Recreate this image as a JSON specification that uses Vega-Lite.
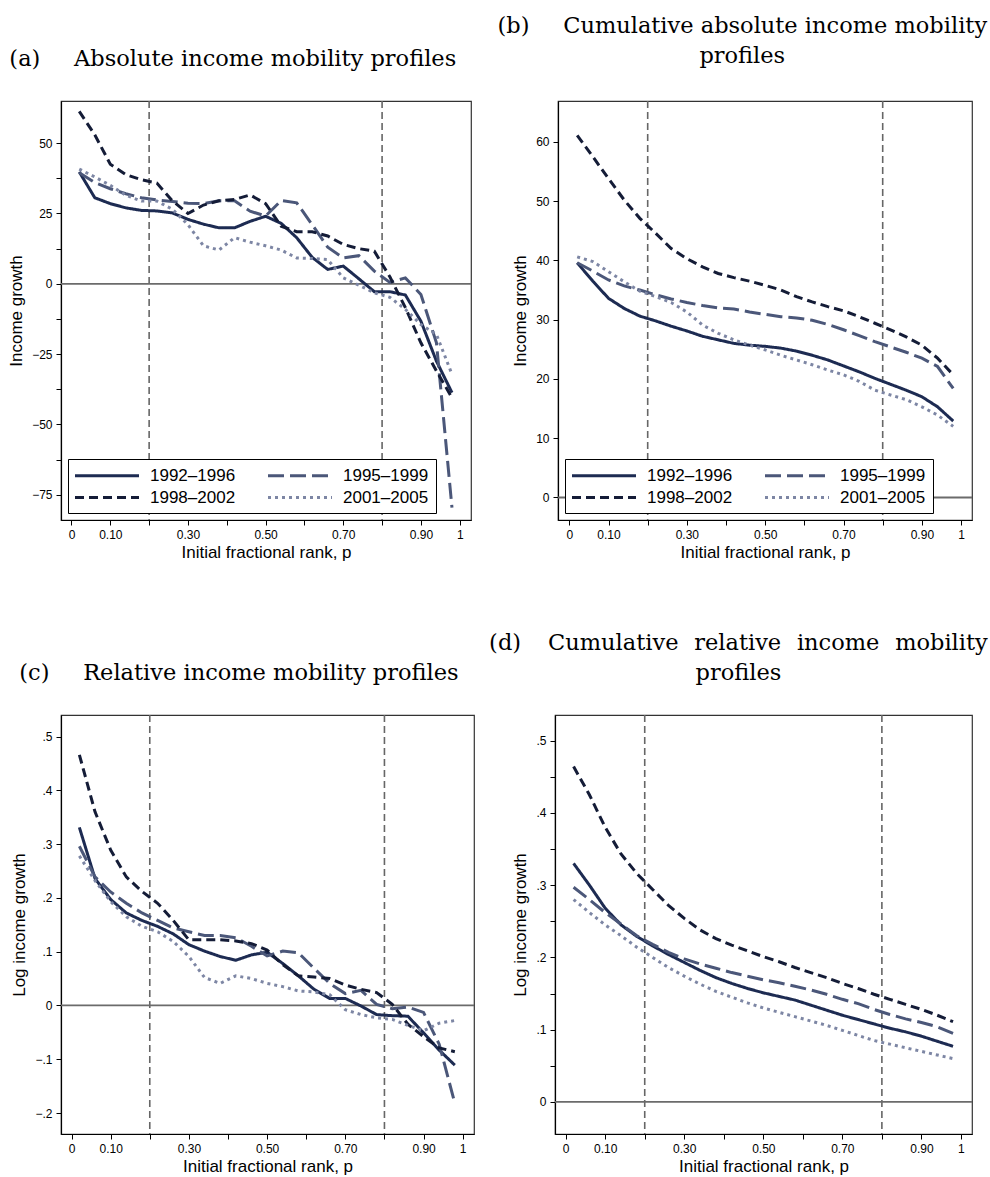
{
 "$schema": "https://vega.github.io/schema/vega-lite/v6.json",
 "padding": {"left": 7, "top": 14, "right": 0, "bottom": 0},
 "background": "white",
 "config": {
  "font": "Liberation Sans",
  "view": {"stroke": "#333", "strokeWidth": 1.2},
  "axis": {"labelFont": "Liberation Sans", "titleFont": "Liberation Sans", "labelFontSize": 12, "titleFontSize": 17, "titleFontWeight": "normal", "tickSize": 5, "labelPadding": 4, "titlePadding": 4, "domainColor": "#000", "tickColor": "#000", "labelColor": "#000", "titleColor": "#000", "grid": false, "domainWidth": 1.2, "tickWidth": 1, "labelFlush": false, "labelOverlap": false},
  "axisY": {"titlePadding": 6},
  "title": {"font": "DejaVu Serif", "fontSize": 22.5, "fontWeight": "normal", "color": "#000", "anchor": "middle", "frame": "bounds", "lineHeight": 30},
  "legend": {"orient": "bottom-left", "offset": 7, "columns": 2, "direction": "horizontal", "symbolType": "M-4,0L4,0", "symbolSize": 256, "symbolOffset": 22.5, "symbolStrokeWidth": 3, "labelFont": "Liberation Sans", "labelFontSize": 17, "labelColor": "#000", "strokeColor": "#000", "fillColor": "#fff", "padding": 7, "columnPadding": 26, "rowPadding": 4, "labelOffset": 33.5}
 },
 "datasets": {
  "vlines": [{"p": 0.2}, {"p": 0.8}],
  "zero": [{"value": 0}],
  "a": [
   {"p":0.02,"period":"1992–1996","value":39.8},{"p":0.06,"period":"1992–1996","value":30.6},{"p":0.10,"period":"1992–1996","value":28.5},{"p":0.14,"period":"1992–1996","value":27.0},{"p":0.18,"period":"1992–1996","value":26.1},{"p":0.22,"period":"1992–1996","value":25.9},{"p":0.26,"period":"1992–1996","value":25.2},{"p":0.30,"period":"1992–1996","value":22.9},{"p":0.34,"period":"1992–1996","value":21.2},{"p":0.38,"period":"1992–1996","value":19.9},{"p":0.42,"period":"1992–1996","value":19.9},{"p":0.46,"period":"1992–1996","value":22.2},{"p":0.50,"period":"1992–1996","value":24.0},{"p":0.54,"period":"1992–1996","value":21.5},{"p":0.58,"period":"1992–1996","value":16.4},{"p":0.62,"period":"1992–1996","value":9.4},{"p":0.66,"period":"1992–1996","value":5.1},{"p":0.70,"period":"1992–1996","value":6.3},{"p":0.74,"period":"1992–1996","value":1.8},{"p":0.78,"period":"1992–1996","value":-2.8},{"p":0.82,"period":"1992–1996","value":-2.8},{"p":0.86,"period":"1992–1996","value":-4.0},{"p":0.90,"period":"1992–1996","value":-13.3},{"p":0.94,"period":"1992–1996","value":-27.5},{"p":0.98,"period":"1992–1996","value":-38.7},
   {"p":0.02,"period":"1995–1999","value":39.5},{"p":0.06,"period":"1995–1999","value":36.0},{"p":0.10,"period":"1995–1999","value":33.8},{"p":0.14,"period":"1995–1999","value":32.0},{"p":0.18,"period":"1995–1999","value":30.6},{"p":0.22,"period":"1995–1999","value":29.8},{"p":0.26,"period":"1995–1999","value":29.3},{"p":0.30,"period":"1995–1999","value":28.6},{"p":0.34,"period":"1995–1999","value":28.5},{"p":0.38,"period":"1995–1999","value":29.5},{"p":0.42,"period":"1995–1999","value":29.5},{"p":0.46,"period":"1995–1999","value":25.8},{"p":0.50,"period":"1995–1999","value":24.1},{"p":0.54,"period":"1995–1999","value":29.6},{"p":0.58,"period":"1995–1999","value":28.8},{"p":0.62,"period":"1995–1999","value":21.0},{"p":0.66,"period":"1995–1999","value":13.0},{"p":0.70,"period":"1995–1999","value":9.2},{"p":0.74,"period":"1995–1999","value":10.0},{"p":0.78,"period":"1995–1999","value":4.5},{"p":0.82,"period":"1995–1999","value":0.5},{"p":0.86,"period":"1995–1999","value":2.1},{"p":0.90,"period":"1995–1999","value":-3.8},{"p":0.94,"period":"1995–1999","value":-21.0},{"p":0.98,"period":"1995–1999","value":-79.6},
   {"p":0.02,"period":"1998–2002","value":61.3},{"p":0.06,"period":"1998–2002","value":53.0},{"p":0.10,"period":"1998–2002","value":42.5},{"p":0.14,"period":"1998–2002","value":38.8},{"p":0.18,"period":"1998–2002","value":37.0},{"p":0.22,"period":"1998–2002","value":35.8},{"p":0.26,"period":"1998–2002","value":29.5},{"p":0.30,"period":"1998–2002","value":25.0},{"p":0.34,"period":"1998–2002","value":28.0},{"p":0.38,"period":"1998–2002","value":29.5},{"p":0.42,"period":"1998–2002","value":30.0},{"p":0.46,"period":"1998–2002","value":31.6},{"p":0.50,"period":"1998–2002","value":28.5},{"p":0.54,"period":"1998–2002","value":20.5},{"p":0.58,"period":"1998–2002","value":18.5},{"p":0.62,"period":"1998–2002","value":18.5},{"p":0.66,"period":"1998–2002","value":17.0},{"p":0.70,"period":"1998–2002","value":14.0},{"p":0.74,"period":"1998–2002","value":12.5},{"p":0.78,"period":"1998–2002","value":11.6},{"p":0.82,"period":"1998–2002","value":2.5},{"p":0.86,"period":"1998–2002","value":-8.5},{"p":0.90,"period":"1998–2002","value":-21.0},{"p":0.94,"period":"1998–2002","value":-31.0},{"p":0.98,"period":"1998–2002","value":-40.5},
   {"p":0.02,"period":"2001–2005","value":40.8},{"p":0.06,"period":"2001–2005","value":38.0},{"p":0.10,"period":"2001–2005","value":35.0},{"p":0.14,"period":"2001–2005","value":31.5},{"p":0.18,"period":"2001–2005","value":29.4},{"p":0.22,"period":"2001–2005","value":29.4},{"p":0.26,"period":"2001–2005","value":26.5},{"p":0.30,"period":"2001–2005","value":21.0},{"p":0.34,"period":"2001–2005","value":13.5},{"p":0.38,"period":"2001–2005","value":12.0},{"p":0.42,"period":"2001–2005","value":16.4},{"p":0.46,"period":"2001–2005","value":14.8},{"p":0.50,"period":"2001–2005","value":13.5},{"p":0.54,"period":"2001–2005","value":12.0},{"p":0.58,"period":"2001–2005","value":9.2},{"p":0.62,"period":"2001–2005","value":9.0},{"p":0.66,"period":"2001–2005","value":8.6},{"p":0.70,"period":"2001–2005","value":2.1},{"p":0.74,"period":"2001–2005","value":-0.5},{"p":0.78,"period":"2001–2005","value":-3.2},{"p":0.82,"period":"2001–2005","value":-4.8},{"p":0.86,"period":"2001–2005","value":-9.1},{"p":0.90,"period":"2001–2005","value":-14.5},{"p":0.94,"period":"2001–2005","value":-18.0},{"p":0.98,"period":"2001–2005","value":-32.2}
  ],
  "b": [
   {"p":0.02,"period":"1992–1996","value":39.6},{"p":0.06,"period":"1992–1996","value":36.5},{"p":0.10,"period":"1992–1996","value":33.6},{"p":0.14,"period":"1992–1996","value":31.9},{"p":0.18,"period":"1992–1996","value":30.6},{"p":0.22,"period":"1992–1996","value":29.8},{"p":0.26,"period":"1992–1996","value":28.9},{"p":0.30,"period":"1992–1996","value":28.1},{"p":0.34,"period":"1992–1996","value":27.2},{"p":0.38,"period":"1992–1996","value":26.6},{"p":0.42,"period":"1992–1996","value":26.0},{"p":0.46,"period":"1992–1996","value":25.7},{"p":0.50,"period":"1992–1996","value":25.5},{"p":0.54,"period":"1992–1996","value":25.2},{"p":0.58,"period":"1992–1996","value":24.7},{"p":0.62,"period":"1992–1996","value":24.0},{"p":0.66,"period":"1992–1996","value":23.2},{"p":0.70,"period":"1992–1996","value":22.2},{"p":0.74,"period":"1992–1996","value":21.2},{"p":0.78,"period":"1992–1996","value":20.1},{"p":0.82,"period":"1992–1996","value":19.1},{"p":0.86,"period":"1992–1996","value":18.1},{"p":0.90,"period":"1992–1996","value":17.0},{"p":0.94,"period":"1992–1996","value":15.3},{"p":0.98,"period":"1992–1996","value":12.9},
   {"p":0.02,"period":"1995–1999","value":39.6},{"p":0.06,"period":"1995–1999","value":38.2},{"p":0.10,"period":"1995–1999","value":36.7},{"p":0.14,"period":"1995–1999","value":35.7},{"p":0.18,"period":"1995–1999","value":35.0},{"p":0.22,"period":"1995–1999","value":34.2},{"p":0.26,"period":"1995–1999","value":33.5},{"p":0.30,"period":"1995–1999","value":32.9},{"p":0.34,"period":"1995–1999","value":32.4},{"p":0.38,"period":"1995–1999","value":32.0},{"p":0.42,"period":"1995–1999","value":31.8},{"p":0.46,"period":"1995–1999","value":31.3},{"p":0.50,"period":"1995–1999","value":30.9},{"p":0.54,"period":"1995–1999","value":30.5},{"p":0.58,"period":"1995–1999","value":30.3},{"p":0.62,"period":"1995–1999","value":29.9},{"p":0.66,"period":"1995–1999","value":29.2},{"p":0.70,"period":"1995–1999","value":28.3},{"p":0.74,"period":"1995–1999","value":27.3},{"p":0.78,"period":"1995–1999","value":26.3},{"p":0.82,"period":"1995–1999","value":25.4},{"p":0.86,"period":"1995–1999","value":24.5},{"p":0.90,"period":"1995–1999","value":23.5},{"p":0.94,"period":"1995–1999","value":22.1},{"p":0.98,"period":"1995–1999","value":18.4},
   {"p":0.02,"period":"1998–2002","value":61.1},{"p":0.06,"period":"1998–2002","value":57.5},{"p":0.10,"period":"1998–2002","value":53.8},{"p":0.14,"period":"1998–2002","value":50.2},{"p":0.18,"period":"1998–2002","value":47.1},{"p":0.22,"period":"1998–2002","value":44.6},{"p":0.26,"period":"1998–2002","value":42.0},{"p":0.30,"period":"1998–2002","value":40.3},{"p":0.34,"period":"1998–2002","value":38.9},{"p":0.38,"period":"1998–2002","value":37.8},{"p":0.42,"period":"1998–2002","value":37.1},{"p":0.46,"period":"1998–2002","value":36.5},{"p":0.50,"period":"1998–2002","value":35.8},{"p":0.54,"period":"1998–2002","value":35.0},{"p":0.58,"period":"1998–2002","value":33.9},{"p":0.62,"period":"1998–2002","value":33.0},{"p":0.66,"period":"1998–2002","value":32.2},{"p":0.70,"period":"1998–2002","value":31.5},{"p":0.74,"period":"1998–2002","value":30.5},{"p":0.78,"period":"1998–2002","value":29.4},{"p":0.82,"period":"1998–2002","value":28.3},{"p":0.86,"period":"1998–2002","value":27.1},{"p":0.90,"period":"1998–2002","value":25.7},{"p":0.94,"period":"1998–2002","value":23.5},{"p":0.98,"period":"1998–2002","value":20.7},
   {"p":0.02,"period":"2001–2005","value":40.6},{"p":0.06,"period":"2001–2005","value":39.8},{"p":0.10,"period":"2001–2005","value":38.1},{"p":0.14,"period":"2001–2005","value":36.4},{"p":0.18,"period":"2001–2005","value":34.8},{"p":0.22,"period":"2001–2005","value":33.9},{"p":0.26,"period":"2001–2005","value":32.9},{"p":0.30,"period":"2001–2005","value":31.3},{"p":0.34,"period":"2001–2005","value":29.1},{"p":0.38,"period":"2001–2005","value":27.7},{"p":0.42,"period":"2001–2005","value":26.6},{"p":0.46,"period":"2001–2005","value":25.7},{"p":0.50,"period":"2001–2005","value":24.9},{"p":0.54,"period":"2001–2005","value":24.0},{"p":0.58,"period":"2001–2005","value":23.2},{"p":0.62,"period":"2001–2005","value":22.4},{"p":0.66,"period":"2001–2005","value":21.5},{"p":0.70,"period":"2001–2005","value":20.7},{"p":0.74,"period":"2001–2005","value":19.6},{"p":0.78,"period":"2001–2005","value":18.1},{"p":0.82,"period":"2001–2005","value":17.3},{"p":0.86,"period":"2001–2005","value":16.5},{"p":0.90,"period":"2001–2005","value":15.3},{"p":0.94,"period":"2001–2005","value":13.9},{"p":0.98,"period":"2001–2005","value":12.0}
  ],
  "c": [
   {"p":0.02,"period":"1992–1996","value":0.331},{"p":0.06,"period":"1992–1996","value":0.236},{"p":0.10,"period":"1992–1996","value":0.197},{"p":0.14,"period":"1992–1996","value":0.172},{"p":0.18,"period":"1992–1996","value":0.158},{"p":0.22,"period":"1992–1996","value":0.147},{"p":0.26,"period":"1992–1996","value":0.133},{"p":0.30,"period":"1992–1996","value":0.113},{"p":0.34,"period":"1992–1996","value":0.101},{"p":0.38,"period":"1992–1996","value":0.091},{"p":0.42,"period":"1992–1996","value":0.084},{"p":0.46,"period":"1992–1996","value":0.094},{"p":0.50,"period":"1992–1996","value":0.099},{"p":0.54,"period":"1992–1996","value":0.078},{"p":0.58,"period":"1992–1996","value":0.055},{"p":0.62,"period":"1992–1996","value":0.030},{"p":0.66,"period":"1992–1996","value":0.013},{"p":0.70,"period":"1992–1996","value":0.013},{"p":0.74,"period":"1992–1996","value":-0.001},{"p":0.78,"period":"1992–1996","value":-0.017},{"p":0.82,"period":"1992–1996","value":-0.019},{"p":0.86,"period":"1992–1996","value":-0.020},{"p":0.90,"period":"1992–1996","value":-0.051},{"p":0.94,"period":"1992–1996","value":-0.083},{"p":0.98,"period":"1992–1996","value":-0.111},
   {"p":0.02,"period":"1995–1999","value":0.296},{"p":0.06,"period":"1995–1999","value":0.239},{"p":0.10,"period":"1995–1999","value":0.211},{"p":0.14,"period":"1995–1999","value":0.190},{"p":0.18,"period":"1995–1999","value":0.172},{"p":0.22,"period":"1995–1999","value":0.158},{"p":0.26,"period":"1995–1999","value":0.144},{"p":0.30,"period":"1995–1999","value":0.137},{"p":0.34,"period":"1995–1999","value":0.130},{"p":0.38,"period":"1995–1999","value":0.130},{"p":0.42,"period":"1995–1999","value":0.126},{"p":0.46,"period":"1995–1999","value":0.110},{"p":0.50,"period":"1995–1999","value":0.092},{"p":0.54,"period":"1995–1999","value":0.101},{"p":0.58,"period":"1995–1999","value":0.098},{"p":0.62,"period":"1995–1999","value":0.069},{"p":0.66,"period":"1995–1999","value":0.041},{"p":0.70,"period":"1995–1999","value":0.022},{"p":0.74,"period":"1995–1999","value":0.028},{"p":0.78,"period":"1995–1999","value":0.002},{"p":0.82,"period":"1995–1999","value":-0.006},{"p":0.86,"period":"1995–1999","value":-0.003},{"p":0.90,"period":"1995–1999","value":-0.013},{"p":0.94,"period":"1995–1999","value":-0.072},{"p":0.98,"period":"1995–1999","value":-0.182},
   {"p":0.02,"period":"1998–2002","value":0.466},{"p":0.06,"period":"1998–2002","value":0.360},{"p":0.10,"period":"1998–2002","value":0.289},{"p":0.14,"period":"1998–2002","value":0.239},{"p":0.18,"period":"1998–2002","value":0.212},{"p":0.22,"period":"1998–2002","value":0.190},{"p":0.26,"period":"1998–2002","value":0.158},{"p":0.30,"period":"1998–2002","value":0.122},{"p":0.34,"period":"1998–2002","value":0.122},{"p":0.38,"period":"1998–2002","value":0.122},{"p":0.42,"period":"1998–2002","value":0.120},{"p":0.46,"period":"1998–2002","value":0.115},{"p":0.50,"period":"1998–2002","value":0.103},{"p":0.54,"period":"1998–2002","value":0.076},{"p":0.58,"period":"1998–2002","value":0.055},{"p":0.62,"period":"1998–2002","value":0.053},{"p":0.66,"period":"1998–2002","value":0.050},{"p":0.70,"period":"1998–2002","value":0.038},{"p":0.74,"period":"1998–2002","value":0.030},{"p":0.78,"period":"1998–2002","value":0.024},{"p":0.82,"period":"1998–2002","value":0.002},{"p":0.86,"period":"1998–2002","value":-0.035},{"p":0.90,"period":"1998–2002","value":-0.058},{"p":0.94,"period":"1998–2002","value":-0.079},{"p":0.98,"period":"1998–2002","value":-0.086},
   {"p":0.02,"period":"2001–2005","value":0.278},{"p":0.06,"period":"2001–2005","value":0.232},{"p":0.10,"period":"2001–2005","value":0.193},{"p":0.14,"period":"2001–2005","value":0.165},{"p":0.18,"period":"2001–2005","value":0.147},{"p":0.22,"period":"2001–2005","value":0.137},{"p":0.26,"period":"2001–2005","value":0.119},{"p":0.30,"period":"2001–2005","value":0.091},{"p":0.34,"period":"2001–2005","value":0.052},{"p":0.38,"period":"2001–2005","value":0.041},{"p":0.42,"period":"2001–2005","value":0.055},{"p":0.46,"period":"2001–2005","value":0.050},{"p":0.50,"period":"2001–2005","value":0.041},{"p":0.54,"period":"2001–2005","value":0.035},{"p":0.58,"period":"2001–2005","value":0.027},{"p":0.62,"period":"2001–2005","value":0.025},{"p":0.66,"period":"2001–2005","value":0.020},{"p":0.70,"period":"2001–2005","value":-0.008},{"p":0.74,"period":"2001–2005","value":-0.017},{"p":0.78,"period":"2001–2005","value":-0.023},{"p":0.82,"period":"2001–2005","value":-0.026},{"p":0.86,"period":"2001–2005","value":-0.037},{"p":0.90,"period":"2001–2005","value":-0.047},{"p":0.94,"period":"2001–2005","value":-0.033},{"p":0.98,"period":"2001–2005","value":-0.028}
  ],
  "d": [
   {"p":0.02,"period":"1992–1996","value":0.330},{"p":0.06,"period":"1992–1996","value":0.300},{"p":0.10,"period":"1992–1996","value":0.268},{"p":0.14,"period":"1992–1996","value":0.245},{"p":0.18,"period":"1992–1996","value":0.229},{"p":0.22,"period":"1992–1996","value":0.216},{"p":0.26,"period":"1992–1996","value":0.204},{"p":0.30,"period":"1992–1996","value":0.193},{"p":0.34,"period":"1992–1996","value":0.182},{"p":0.38,"period":"1992–1996","value":0.172},{"p":0.42,"period":"1992–1996","value":0.164},{"p":0.46,"period":"1992–1996","value":0.157},{"p":0.50,"period":"1992–1996","value":0.151},{"p":0.54,"period":"1992–1996","value":0.146},{"p":0.58,"period":"1992–1996","value":0.141},{"p":0.62,"period":"1992–1996","value":0.134},{"p":0.66,"period":"1992–1996","value":0.127},{"p":0.70,"period":"1992–1996","value":0.120},{"p":0.74,"period":"1992–1996","value":0.114},{"p":0.78,"period":"1992–1996","value":0.108},{"p":0.82,"period":"1992–1996","value":0.102},{"p":0.86,"period":"1992–1996","value":0.097},{"p":0.90,"period":"1992–1996","value":0.091},{"p":0.94,"period":"1992–1996","value":0.084},{"p":0.98,"period":"1992–1996","value":0.077},
   {"p":0.02,"period":"1995–1999","value":0.297},{"p":0.06,"period":"1995–1999","value":0.280},{"p":0.10,"period":"1995–1999","value":0.262},{"p":0.14,"period":"1995–1999","value":0.246},{"p":0.18,"period":"1995–1999","value":0.230},{"p":0.22,"period":"1995–1999","value":0.218},{"p":0.26,"period":"1995–1999","value":0.207},{"p":0.30,"period":"1995–1999","value":0.198},{"p":0.34,"period":"1995–1999","value":0.191},{"p":0.38,"period":"1995–1999","value":0.185},{"p":0.42,"period":"1995–1999","value":0.179},{"p":0.46,"period":"1995–1999","value":0.174},{"p":0.50,"period":"1995–1999","value":0.169},{"p":0.54,"period":"1995–1999","value":0.165},{"p":0.58,"period":"1995–1999","value":0.160},{"p":0.62,"period":"1995–1999","value":0.155},{"p":0.66,"period":"1995–1999","value":0.149},{"p":0.70,"period":"1995–1999","value":0.142},{"p":0.74,"period":"1995–1999","value":0.136},{"p":0.78,"period":"1995–1999","value":0.128},{"p":0.82,"period":"1995–1999","value":0.121},{"p":0.86,"period":"1995–1999","value":0.115},{"p":0.90,"period":"1995–1999","value":0.110},{"p":0.94,"period":"1995–1999","value":0.104},{"p":0.98,"period":"1995–1999","value":0.095},
   {"p":0.02,"period":"1998–2002","value":0.464},{"p":0.06,"period":"1998–2002","value":0.425},{"p":0.10,"period":"1998–2002","value":0.380},{"p":0.14,"period":"1998–2002","value":0.343},{"p":0.18,"period":"1998–2002","value":0.316},{"p":0.22,"period":"1998–2002","value":0.294},{"p":0.26,"period":"1998–2002","value":0.272},{"p":0.30,"period":"1998–2002","value":0.254},{"p":0.34,"period":"1998–2002","value":0.238},{"p":0.38,"period":"1998–2002","value":0.226},{"p":0.42,"period":"1998–2002","value":0.217},{"p":0.46,"period":"1998–2002","value":0.209},{"p":0.50,"period":"1998–2002","value":0.201},{"p":0.54,"period":"1998–2002","value":0.194},{"p":0.58,"period":"1998–2002","value":0.186},{"p":0.62,"period":"1998–2002","value":0.179},{"p":0.66,"period":"1998–2002","value":0.172},{"p":0.70,"period":"1998–2002","value":0.164},{"p":0.74,"period":"1998–2002","value":0.157},{"p":0.78,"period":"1998–2002","value":0.149},{"p":0.82,"period":"1998–2002","value":0.142},{"p":0.86,"period":"1998–2002","value":0.135},{"p":0.90,"period":"1998–2002","value":0.128},{"p":0.94,"period":"1998–2002","value":0.120},{"p":0.98,"period":"1998–2002","value":0.111},
   {"p":0.02,"period":"2001–2005","value":0.280},{"p":0.06,"period":"2001–2005","value":0.262},{"p":0.10,"period":"2001–2005","value":0.245},{"p":0.14,"period":"2001–2005","value":0.230},{"p":0.18,"period":"2001–2005","value":0.214},{"p":0.22,"period":"2001–2005","value":0.200},{"p":0.26,"period":"2001–2005","value":0.186},{"p":0.30,"period":"2001–2005","value":0.174},{"p":0.34,"period":"2001–2005","value":0.163},{"p":0.38,"period":"2001–2005","value":0.153},{"p":0.42,"period":"2001–2005","value":0.145},{"p":0.46,"period":"2001–2005","value":0.137},{"p":0.50,"period":"2001–2005","value":0.130},{"p":0.54,"period":"2001–2005","value":0.124},{"p":0.58,"period":"2001–2005","value":0.118},{"p":0.62,"period":"2001–2005","value":0.112},{"p":0.66,"period":"2001–2005","value":0.106},{"p":0.70,"period":"2001–2005","value":0.099},{"p":0.74,"period":"2001–2005","value":0.092},{"p":0.78,"period":"2001–2005","value":0.085},{"p":0.82,"period":"2001–2005","value":0.080},{"p":0.86,"period":"2001–2005","value":0.075},{"p":0.90,"period":"2001–2005","value":0.070},{"p":0.94,"period":"2001–2005","value":0.065},{"p":0.98,"period":"2001–2005","value":0.060}
  ]
 },
 "resolve": {"legend": {"color": "independent", "strokeDash": "independent"}, "scale": {"x": "independent", "y": "independent"}},
 "spacing": 70,
 "vconcat": [
  {
   "spacing": 23,
   "resolve": {"legend": {"color": "independent", "strokeDash": "independent"}, "scale": {"x": "independent", "y": "independent"}},
   "hconcat": [
    {
     "width": 410, "height": 419,
     "title": {"text": "(a)\u2003\u2002Absolute income mobility profiles", "offset": 30, "dx": -7},
     "layer": [
      {"data": {"name": "vlines"}, "mark": {"type": "rule", "color": "#666", "strokeWidth": 1.6, "strokeDash": [7, 4]}, "encoding": {"x": {"field": "p", "type": "quantitative", "title": "Initial fractional rank, p"}}},
      {"data": {"name": "zero"}, "mark": {"type": "rule", "color": "#6b6b6b", "strokeWidth": 1.8}, "encoding": {"y": {"field": "value", "type": "quantitative", "title": "Income growth"}}},
      {"data": {"name": "a"}, "mark": {"type": "line", "strokeWidth": 3},
       "encoding": {
        "x": {"field": "p", "type": "quantitative", "title": "Initial fractional rank, p", "scale": {"domain": [-0.027, 1.029], "nice": false, "zero": false},
              "axis": {"values": [0,0.05,0.1,0.15,0.2,0.25,0.3,0.35,0.4,0.45,0.5,0.55,0.6,0.65,0.7,0.75,0.8,0.85,0.9,0.95,1], "labelExpr": "datum.value == 0 ? '0' : datum.value == 1 ? '1' : (abs(datum.value * 10 - round(datum.value * 10)) < 0.001 && round(datum.value * 10) % 2 == 1) ? format(datum.value, '.2f') : ''"}},
        "y": {"field": "value", "type": "quantitative", "title": "Income growth", "scale": {"domain": [-84, 65], "nice": false, "zero": false},
              "axis": {"values": [-75,-62.5,-50,-37.5,-25,-12.5,0,12.5,25,37.5,50], "labelExpr": "datum.value % 25 == 0 ? format(datum.value, 'd') : ''"}},
        "color": {"field": "period", "type": "nominal", "scale": {"domain": ["1992–1996","1995–1999","1998–2002","2001–2005"], "range": ["#1d2b52","#4b5779","#141c37","#7d86a4"]}, "legend": {"title": null}},
        "strokeDash": {"field": "period", "type": "nominal", "scale": {"domain": ["1992–1996","1995–1999","1998–2002","2001–2005"], "range": [[1,0],[16,6],[9,5],[3,4]]}, "legend": {"title": null}}
       }}
     ]
    },
    {
     "width": 414, "height": 419,
     "title": {"text": ["(b)\u2003\u2002Cumulative absolute income mobility", "profiles"], "offset": 33, "dx": 0},
     "layer": [
      {"data": {"name": "vlines"}, "mark": {"type": "rule", "color": "#666", "strokeWidth": 1.6, "strokeDash": [7, 4]}, "encoding": {"x": {"field": "p", "type": "quantitative", "title": "Initial fractional rank, p"}}},
      {"data": {"name": "zero"}, "mark": {"type": "rule", "color": "#6b6b6b", "strokeWidth": 1.8}, "encoding": {"y": {"field": "value", "type": "quantitative", "title": "Income growth"}}},
      {"data": {"name": "b"}, "mark": {"type": "line", "strokeWidth": 3},
       "encoding": {
        "x": {"field": "p", "type": "quantitative", "title": "Initial fractional rank, p", "scale": {"domain": [-0.029, 1.028], "nice": false, "zero": false},
              "axis": {"values": [0,0.05,0.1,0.15,0.2,0.25,0.3,0.35,0.4,0.45,0.5,0.55,0.6,0.65,0.7,0.75,0.8,0.85,0.9,0.95,1], "labelExpr": "datum.value == 0 ? '0' : datum.value == 1 ? '1' : (abs(datum.value * 10 - round(datum.value * 10)) < 0.001 && round(datum.value * 10) % 2 == 1) ? format(datum.value, '.2f') : ''"}},
        "y": {"field": "value", "type": "quantitative", "title": "Income growth", "scale": {"domain": [-3.8, 66.9], "nice": false, "zero": false},
              "axis": {"values": [0,5,10,15,20,25,30,35,40,45,50,55,60], "labelExpr": "datum.value % 10 == 0 ? format(datum.value, 'd') : ''"}},
        "color": {"field": "period", "type": "nominal", "scale": {"domain": ["1992–1996","1995–1999","1998–2002","2001–2005"], "range": ["#1d2b52","#4b5779","#141c37","#7d86a4"]}, "legend": {"title": null}},
        "strokeDash": {"field": "period", "type": "nominal", "scale": {"domain": ["1992–1996","1995–1999","1998–2002","2001–2005"], "range": [[1,0],[16,6],[9,5],[3,4]]}, "legend": {"title": null}}
       }}
     ]
    }
   ]
  },
  {
   "spacing": 12,
   "resolve": {"legend": {"color": "independent", "strokeDash": "independent"}, "scale": {"x": "independent", "y": "independent"}},
   "hconcat": [
    {
     "width": 413, "height": 419,
     "title": {"text": "(c)\u2003\u2002Relative income mobility profiles", "offset": 30, "dx": -4},
     "layer": [
      {"data": {"name": "vlines"}, "mark": {"type": "rule", "color": "#666", "strokeWidth": 1.6, "strokeDash": [7, 4]}, "encoding": {"x": {"field": "p", "type": "quantitative", "title": "Initial fractional rank, p"}}},
      {"data": {"name": "zero"}, "mark": {"type": "rule", "color": "#6b6b6b", "strokeWidth": 1.8}, "encoding": {"y": {"field": "value", "type": "quantitative", "title": "Log income growth"}}},
      {"data": {"name": "c"}, "mark": {"type": "line", "strokeWidth": 3},
       "encoding": {
        "x": {"field": "p", "type": "quantitative", "title": "Initial fractional rank, p", "scale": {"domain": [-0.027, 1.029], "nice": false, "zero": false},
              "axis": {"values": [0,0.05,0.1,0.15,0.2,0.25,0.3,0.35,0.4,0.45,0.5,0.55,0.6,0.65,0.7,0.75,0.8,0.85,0.9,0.95,1], "labelExpr": "datum.value == 0 ? '0' : datum.value == 1 ? '1' : (abs(datum.value * 10 - round(datum.value * 10)) < 0.001 && round(datum.value * 10) % 2 == 1) ? format(datum.value, '.2f') : ''"}},
        "y": {"field": "value", "type": "quantitative", "title": "Log income growth", "scale": {"domain": [-0.239, 0.540], "nice": false, "zero": false},
              "axis": {"values": [-0.2,-0.15,-0.1,-0.05,0,0.05,0.1,0.15,0.2,0.25,0.3,0.35,0.4,0.45,0.5], "labelExpr": "abs(datum.value * 10 - round(datum.value * 10)) > 0.001 ? '' : datum.value == 0 ? '0' : replace(format(datum.value, '.1f'), '0.', '.')"}},
        "color": {"field": "period", "type": "nominal", "scale": {"domain": ["1992–1996","1995–1999","1998–2002","2001–2005"], "range": ["#1d2b52","#4b5779","#141c37","#7d86a4"]}, "legend": null},
        "strokeDash": {"field": "period", "type": "nominal", "scale": {"domain": ["1992–1996","1995–1999","1998–2002","2001–2005"], "range": [[1,0],[16,6],[9,5],[3,4]]}, "legend": null}
       }}
     ]
    },
    {
     "width": 417, "height": 419,
     "title": {"text": ["(d)\u2003\u2009Cumulative\u2002\u2009relative\u2002\u2009income\u2002\u2009mobility", "profiles"], "offset": 30, "dx": -4},
     "layer": [
      {"data": {"name": "vlines"}, "mark": {"type": "rule", "color": "#666", "strokeWidth": 1.6, "strokeDash": [7, 4]}, "encoding": {"x": {"field": "p", "type": "quantitative", "title": "Initial fractional rank, p"}}},
      {"data": {"name": "zero"}, "mark": {"type": "rule", "color": "#6b6b6b", "strokeWidth": 1.8}, "encoding": {"y": {"field": "value", "type": "quantitative", "title": "Log income growth"}}},
      {"data": {"name": "d"}, "mark": {"type": "line", "strokeWidth": 3},
       "encoding": {
        "x": {"field": "p", "type": "quantitative", "title": "Initial fractional rank, p", "scale": {"domain": [-0.027, 1.028], "nice": false, "zero": false},
              "axis": {"values": [0,0.05,0.1,0.15,0.2,0.25,0.3,0.35,0.4,0.45,0.5,0.55,0.6,0.65,0.7,0.75,0.8,0.85,0.9,0.95,1], "labelExpr": "datum.value == 0 ? '0' : datum.value == 1 ? '1' : (abs(datum.value * 10 - round(datum.value * 10)) < 0.001 && round(datum.value * 10) % 2 == 1) ? format(datum.value, '.2f') : ''"}},
        "y": {"field": "value", "type": "quantitative", "title": "Log income growth", "scale": {"domain": [-0.0443, 0.5353], "nice": false, "zero": false},
              "axis": {"values": [0,0.05,0.1,0.15,0.2,0.25,0.3,0.35,0.4,0.45,0.5], "labelExpr": "abs(datum.value * 10 - round(datum.value * 10)) > 0.001 ? '' : datum.value == 0 ? '0' : replace(format(datum.value, '.1f'), '0.', '.')"}},
        "color": {"field": "period", "type": "nominal", "scale": {"domain": ["1992–1996","1995–1999","1998–2002","2001–2005"], "range": ["#1d2b52","#4b5779","#141c37","#7d86a4"]}, "legend": null},
        "strokeDash": {"field": "period", "type": "nominal", "scale": {"domain": ["1992–1996","1995–1999","1998–2002","2001–2005"], "range": [[1,0],[16,6],[9,5],[3,4]]}, "legend": null}
       }}
     ]
    }
   ]
  }
 ]
}
